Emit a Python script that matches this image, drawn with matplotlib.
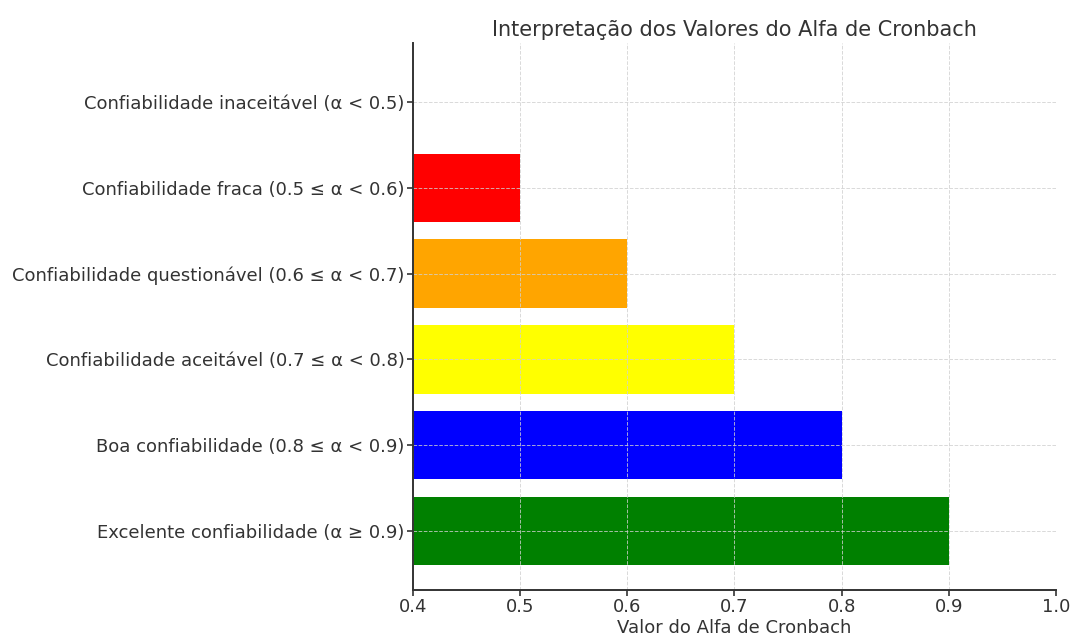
import matplotlib
matplotlib.use("Agg")
import matplotlib.pyplot as plt

categories = [
    "Excelente confiabilidade (α ≥ 0.9)",
    "Boa confiabilidade (0.8 ≤ α < 0.9)",
    "Confiabilidade aceitável (0.7 ≤ α < 0.8)",
    "Confiabilidade questionável (0.6 ≤ α < 0.7)",
    "Confiabilidade fraca (0.5 ≤ α < 0.6)",
    "Confiabilidade inaceitável (α < 0.5)",
]
values = [0.9, 0.8, 0.7, 0.6, 0.5, 0.4]
colors = ["green", "blue", "yellow", "orange", "red", "darkred"]
xticks = [0.4, 0.5, 0.6, 0.7, 0.8, 0.9, 1.0]

TXT = "#333333"
plt.rcParams.update({
    "font.family": "DejaVu Sans",
    "text.color": TXT, "axes.labelcolor": TXT,
    "xtick.color": TXT, "ytick.color": TXT,
    "axes.edgecolor": TXT, "axes.linewidth": 1.4,
})

fig = plt.figure(figsize=(10.72, 6.37), dpi=100)
ax = fig.add_axes([413 / 1072, 1 - 590 / 637, (1056 - 413) / 1072, (590 - 43) / 637])

ax.barh(categories, values, color=colors, height=0.8)
ax.set_xlim(0.4, 1.0)
ax.set_xticks(xticks)
ax.set_xticklabels([f"{t:.1f}" for t in xticks])
ax.tick_params(labelsize=13, width=1.2, length=4, pad=2)
ax.set_xlabel("Valor do Alfa de Cronbach", fontsize=13, labelpad=2)
ax.set_title("Interpretação dos Valores do Alfa de Cronbach", fontsize=15, pad=5)
ax.grid(True, linestyle="--", color="#d0d0d0", alpha=0.8, linewidth=0.7)
ax.spines["top"].set_visible(False)
ax.spines["right"].set_visible(False)

fig.savefig("out.png", dpi=100, facecolor="white")
